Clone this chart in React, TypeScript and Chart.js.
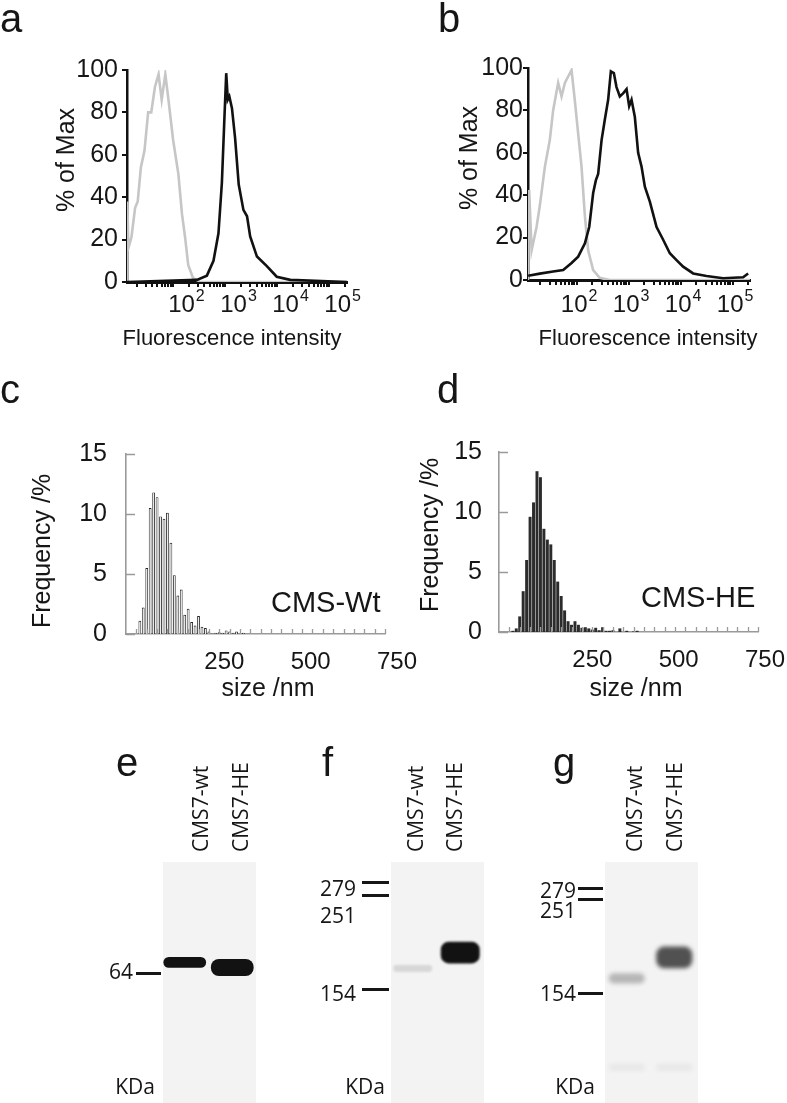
import React, { useEffect, useRef } from "react";
import { Chart, registerables } from "chart.js";

Chart.register(...registerables);

const SANS = "'Liberation Sans', Arial, Helvetica, sans-serif";
const BLOT_FONT = "'Open Sans', 'Noto Sans', sans-serif";
const INK = "#161616";

// ---------------- a / b : flow cytometry (% of Max vs fluorescence intensity) ----------------
const aIsotypeIntensity = [13.0, 13.2, 13.8, 15.8, 18.6, 20.9, 24, 28.2, 33.1, 38, 44.7, 52.5, 60.3, 70.8, 81.3, 100, 126, 148, 170, 195, 240, 331, 218000];
const aIsotypePct = [0, 38, 16, 21, 35, 38, 54, 62, 80, 80, 92, 98, 86, 98, 86, 67, 51, 32, 21, 8, 2, 0, 0];
const aStainIntensity = [13.0, 286, 445, 596, 743, 865, 955, 1047, 1122, 1202, 1349, 1549, 1820, 2239, 2630, 3020, 4074, 6310, 9772, 17780, 218000];
const aStainPct = [0, 1, 3, 10, 23, 47, 74, 98.5, 86, 87.5, 82, 68, 46, 34, 31, 21.5, 12, 7.5, 2.5, 1, 0];

const bIsotypeIntensity = [11.5, 12.1, 13.5, 16.8, 19.4, 24.3, 30.2, 35, 43.7, 50.8, 58.9, 68.1, 79.1, 91.2, 106, 123, 143, 165, 206, 275, 432, 213000];
const bIsotypePct = [0, 42.5, 14, 25, 35, 53.5, 66, 80, 93, 86.6, 93, 96, 99, 85, 69, 53.5, 30, 14, 4.7, 1, 0, 0];
const bStainIntensity = [11.6, 19.4, 35, 54.6, 79.1, 106, 143, 173, 206, 232, 257, 299, 345, 400, 451, 515, 579, 671, 776, 904, 1014, 1127, 1303, 1510, 1754, 2032, 2535, 3412, 4571, 6138, 8260, 11070, 17260, 31190, 65010, 157800, 196800];
const bStainPct = [2, 3, 4, 4.7, 8, 11, 17.3, 25, 41, 47, 50, 66, 75.6, 85, 98.4, 97.6, 91, 86.6, 88, 90, 82, 85, 77, 60, 53.5, 44, 37, 25, 19, 12.6, 9.4, 6.3, 3.1, 1.9, 0.8, 1.3, 3.1];

const decadeTicks = [100, 1000, 10000, 100000];
const decadeExponents = ["2", "3", "4", "5"];
const pctTicks = [0, 20, 40, 60, 80, 100];

// ---------------- c / d : size distribution ----------------
const cSize = [40, 50, 60, 70, 80, 90, 100, 110, 120, 130, 140, 150, 160, 170, 180, 190, 200, 210, 220, 230, 240, 250, 260, 270, 280, 290, 300, 310, 320, 330, 340];
const cFreq = [1.1, 2.2, 5.5, 10.5, 11.8, 11.4, 9.8, 9.6, 10.1, 7.6, 4.9, 3.2, 3.7, 1.6, 2.1, 1.0, 0.7, 1.5, 0.6, 0.5, 0.2, 0.05, 0.1, 0.15, 0.1, 0.3, 0.2, 0.1, 0.2, 0.05, 0.1];
const dSize = [40, 50, 60, 70, 80, 90, 100, 110, 120, 130, 140, 150, 160, 170, 180, 190, 200, 210, 220, 230, 240, 250, 260, 270, 280, 290, 300, 310, 320, 330, 340, 350, 360, 370, 380, 390, 400];
const dFreq = [0.1, 0.3, 1.3, 3.4, 6.0, 9.6, 10.8, 13.4, 12.9, 8.6, 7.7, 7.3, 6.0, 4.2, 3.0, 1.8, 0.9, 0.6, 0.9, 0.6, 0.35, 0.4, 0.3, 0.2, 0.35, 0.15, 0.4, 0.1, 0.1, 0.15, 0, 0.3, 0, 0.1, 0, 0.05, 0.1];
const sizeLabelTicks = [250, 500, 750];
const sizeTickMarks = [30, 60, 90, 120, 150, 180, 210, 240, 270, 300, 330, 360, 390, 420, 450, 480, 510, 540, 570, 600, 630, 660, 690, 720, 750];
const freqTicks = [0, 5, 10, 15];

// ---------------- e / f / g : western blots ----------------
// positions = migration distance in % of the visible lane length (0 = top of membrane)
const laneNames = ["CMS7-wt", "CMS7-HE"];
const eMarkerKDa = ["64"];
const eMarkerPos = [46.1];
const eMarkerLabelPos = [46.1];
const eBandTop = [39.4, 40.2];
const eBandBottom = [43.9, 47.3];
const eBandDensity = [1, 1];

const fMarkerKDa = ["279", "251", "154"];
const fMarkerPos = [8.7, 13.7, 52.7];
const fMarkerLabelPos = [11.6, 22.8, 55.2];
const fBandTop = [42.7, 33.1];
const fBandBottom = [45.6, 42.1];
const fBandDensity = [0.12, 1];

const gMarkerKDa = ["279", "251", "154"];
const gMarkerPos = [10.8, 15.4, 54.4];
const gMarkerLabelPos = [12.4, 20.7, 55.2];
const gBandTop = [46.2, 35.1];
const gBandBottom = [50.4, 44.1];
const gBandDensity = [0.27, 0.72];
const gFaintTop = [83.8, 83.8];
const gFaintBottom = [86.6, 86.6];
const gFaintDensity = [0.05, 0.05];

// ------------------------------------------------------------------

type TextItem = { text: string; x: number; y: number; font: string; align?: CanvasTextAlign; rotate?: number; color?: string };

function textsPlugin(items: TextItem[], origin: [number, number]) {
  return {
    id: "texts",
    afterDraw(chart: any) {
      const ctx = chart.ctx as CanvasRenderingContext2D;
      items.forEach((t) => {
        ctx.save();
        ctx.font = t.font;
        ctx.fillStyle = t.color || INK;
        ctx.textAlign = t.align || "left";
        ctx.textBaseline = "alphabetic";
        ctx.translate(t.x - origin[0], t.y - origin[1]);
        if (t.rotate) ctx.rotate(t.rotate);
        ctx.fillText(t.text, 0, 0);
        ctx.restore();
      });
    },
  };
}

function powerLabelsPlugin(dx: number, dy: number) {
  return {
    id: "powerLabels",
    afterDraw(chart: any) {
      const ctx = chart.ctx as CanvasRenderingContext2D;
      const x = chart.scales.x;
      const base = chart.chartArea.bottom + dy;
      decadeTicks.forEach((v, i) => {
        const px = x.getPixelForValue(v) + dx;
        ctx.save();
        ctx.fillStyle = INK;
        ctx.textBaseline = "alphabetic";
        ctx.textAlign = "left";
        ctx.font = `24px ${SANS}`;
        ctx.fillText("10", px, base);
        const w = ctx.measureText("10").width;
        ctx.font = `16px ${SANS}`;
        ctx.fillText(decadeExponents[i], px + w + 1, base - 11);
        ctx.restore();
      });
    },
  };
}

function inwardTicksPlugin(color: string) {
  return {
    id: "inwardTicks",
    afterDraw(chart: any) {
      const { ctx, chartArea: ca, scales } = chart;
      ctx.save();
      ctx.strokeStyle = color;
      ctx.lineWidth = 1.3;
      ctx.beginPath();
      sizeTickMarks.forEach((v) => {
        const px = Math.round(scales.x.getPixelForValue(v)) + 0.5;
        ctx.moveTo(px, ca.bottom);
        ctx.lineTo(px, ca.bottom - 5);
      });
      freqTicks.forEach((v) => {
        const py = Math.round(scales.y.getPixelForValue(v)) + 0.5;
        ctx.moveTo(ca.left, py);
        ctx.lineTo(ca.left + 9, py);
      });
      ctx.stroke();
      ctx.restore();
    },
  };
}

function blotPlugin(p: {
  markers: string[];
  labelPos: number[];
  labelRight: number;
  unitRight: number;
  blur: number;
  laneDx: number[];
}) {
  return {
    id: "blot",
    beforeDatasetsDraw(chart: any) {
      const { ctx, chartArea: ca } = chart;
      ctx.save();
      ctx.fillStyle = "#f3f3f3";
      ctx.fillRect(ca.left + 2, ca.top, ca.right - ca.left - 2, ca.bottom - ca.top);
      ctx.restore();
      ctx.save();
      ctx.filter = `blur(${p.blur}px)`;
    },
    afterDatasetsDraw(chart: any) {
      const { ctx, chartArea: ca, scales } = chart;
      ctx.restore();
      ctx.save();
      ctx.fillStyle = INK;
      ctx.font = `21px ${BLOT_FONT}`;
      ctx.textAlign = "right";
      ctx.textBaseline = "middle";
      p.markers.forEach((m, i) => {
        ctx.fillText(m, ca.left + p.labelRight, scales.y.getPixelForValue(p.labelPos[i]));
      });
      ctx.font = `21px ${BLOT_FONT}`;
      ctx.fillText("KDa", ca.left + p.unitRight, scales.y.getPixelForValue(93.8));
      ctx.font = `21px ${BLOT_FONT}`;
      ctx.textAlign = "left";
      ctx.textBaseline = "alphabetic";
      laneNames.forEach((name, i) => {
        ctx.save();
        ctx.translate(scales.x.getPixelForValue(i) + p.laneDx[i], ca.top - 10);
        ctx.rotate(-Math.PI / 2);
        ctx.fillText(name, 0, 0);
        ctx.restore();
      });
      ctx.restore();
    },
  };
}

const basePlugins = { legend: { display: false }, tooltip: { enabled: false } };

type Area = { l: number; t: number; r: number; b: number };

function flowConfig(o: {
  width: number; height: number; area: Area; min: number; max: number;
  isoX: number[]; isoY: number[]; stX: number[]; stY: number[];
  yPad: number; labelDx: number; labelDy: number; texts: TextItem[]; origin: [number, number];
}) {
  const marks: number[] = [];
  [10, 100, 1000, 10000, 100000].forEach((dec) => {
    [1, 2, 3, 4, 5, 6, 7, 8, 9].forEach((k) => {
      const v = k * dec;
      if (v >= o.min && v <= o.max) marks.push(v);
    });
  });
  return {
    type: "scatter",
    data: {
      datasets: [
        {
          data: o.stX.map((x, i) => ({ x, y: o.stY[i] })),
          showLine: true, pointRadius: 0, borderColor: "#111", borderWidth: 2.6, tension: 0,
        },
        {
          data: o.isoX.map((x, i) => ({ x, y: o.isoY[i] })),
          showLine: true, pointRadius: 0, borderColor: "#c6c6c6", borderWidth: 2.6, tension: 0,
        },
      ],
    },
    options: {
      animation: false, responsive: false, events: [],
      layout: { padding: { left: 0, top: o.area.t, right: o.width - o.area.r, bottom: 0 } },
      plugins: basePlugins,
      scales: {
        x: {
          type: "logarithmic", min: o.min, max: o.max,
          afterBuildTicks: (s: any) => { s.ticks = marks.map((v) => ({ value: v })); },
          afterFit: (s: any) => { s.height = o.height - o.area.b; },
          ticks: { display: false },
          grid: { drawOnChartArea: false, drawTicks: true, tickLength: 5, lineWidth: 2, color: "#111" },
          border: { display: true, color: "#111", width: 3 },
        },
        y: {
          type: "linear", min: 0, max: 100,
          afterBuildTicks: (s: any) => { s.ticks = pctTicks.map((v) => ({ value: v })); },
          afterFit: (s: any) => { s.width = o.area.l; },
          ticks: { padding: o.yPad, color: INK, font: { family: SANS, size: 25 } },
          grid: { drawOnChartArea: false, drawTicks: true, tickLength: 5, lineWidth: 2, color: "#111" },
          border: { display: true, color: "#111", width: 2.5 },
        },
      },
    },
    plugins: [powerLabelsPlugin(o.labelDx, o.labelDy), textsPlugin(o.texts, o.origin)],
  };
}

function sizeConfig(o: {
  width: number; height: number; area: Area; sizes: number[]; freq: number[];
  fill: string; border: string; borderWidth: number; barPct: number; labelOffset: number; yPad: number;
  texts: TextItem[]; origin: [number, number];
}) {
  return {
    type: "bar",
    data: {
      datasets: [
        {
          data: o.sizes.map((x, i) => ({ x, y: o.freq[i] })),
          backgroundColor: o.fill, borderColor: o.border, borderWidth: o.borderWidth,
          barPercentage: o.barPct, categoryPercentage: 1, borderSkipped: "bottom",
        },
      ],
    },
    options: {
      animation: false, responsive: false, events: [],
      layout: { padding: { left: 0, top: o.area.t, right: o.width - o.area.r, bottom: 0 } },
      plugins: basePlugins,
      scales: {
        x: {
          type: "linear", min: 0, max: 750, offset: false,
          afterBuildTicks: (s: any) => { s.ticks = sizeLabelTicks.map((v) => ({ value: v })); },
          afterFit: (s: any) => { s.height = o.height - o.area.b; },
          ticks: { padding: 6, labelOffset: o.labelOffset, maxRotation: 0, color: INK, font: { family: SANS, size: 24 } },
          grid: { display: false, offset: false },
          border: { display: true, color: "#9a9a9a", width: 1.6 },
        },
        y: {
          type: "linear", min: 0, max: 15,
          afterBuildTicks: (s: any) => { s.ticks = freqTicks.map((v) => ({ value: v })); },
          afterFit: (s: any) => { s.width = o.area.l; },
          ticks: { padding: o.yPad, color: INK, font: { family: SANS, size: 25 } },
          grid: { display: false },
          border: { display: true, color: "#9a9a9a", width: 1.6 },
        },
      },
    },
    plugins: [inwardTicksPlugin("#9a9a9a"), textsPlugin(o.texts, o.origin)],
  };
}

function bandColor(d: number) {
  return `rgba(18,18,18,${d})`;
}

function blotConfig(o: {
  width: number; height: number; area: Area;
  markers: string[]; markerPos: number[]; labelPos: number[];
  top: number[]; bottom: number[]; density: number[];
  faintTop?: number[]; faintBottom?: number[]; faintDensity?: number[];
  barPct: number; blur: number; tickLen: number; labelRight: number; unitRight: number; laneDx: number[];
  texts: TextItem[]; origin: [number, number];
}) {
  const datasets: any[] = [
    {
      data: laneNames.map((_, i) => [o.top[i], o.bottom[i]]),
      backgroundColor: o.density.map(bandColor),
      barPercentage: o.barPct, categoryPercentage: 1, grouped: false,
      borderRadius: 8, borderSkipped: false, borderWidth: 0,
    },
  ];
  if (o.faintTop && o.faintBottom && o.faintDensity) {
    const fd = o.faintDensity;
    datasets.push({
      data: laneNames.map((_, i) => [o.faintTop![i], o.faintBottom![i]]),
      backgroundColor: fd.map(bandColor),
      barPercentage: o.barPct, categoryPercentage: 1, grouped: false,
      borderRadius: 4, borderSkipped: false, borderWidth: 0,
    });
  }
  return {
    type: "bar",
    data: { labels: laneNames, datasets },
    options: {
      animation: false, responsive: false, events: [],
      layout: { padding: { left: 0, top: 0, right: o.width - o.area.r, bottom: 0 } },
      plugins: basePlugins,
      scales: {
        x: {
          type: "category", position: "top",
          afterFit: (s: any) => { s.height = o.area.t; },
          ticks: { display: false },
          grid: { display: false },
          border: { display: false },
        },
        y: {
          type: "linear", reverse: true, min: 0, max: 100,
          afterBuildTicks: (s: any) => { s.ticks = o.markerPos.map((v) => ({ value: v })); },
          afterFit: (s: any) => { s.width = o.area.l; },
          ticks: { display: false },
          grid: { drawOnChartArea: false, drawTicks: true, tickLength: o.tickLen, lineWidth: 3, color: INK },
          border: { display: false },
        },
      },
    },
    plugins: [
      blotPlugin({ markers: o.markers, labelPos: o.labelPos, labelRight: o.labelRight, unitRight: o.unitRight, blur: o.blur, laneDx: o.laneDx }),
      textsPlugin(o.texts, o.origin),
    ],
  };
}

function ChartBox({ left, top, width, height, build }: { left: number; top: number; width: number; height: number; build: () => any }) {
  const ref = useRef<HTMLCanvasElement | null>(null);
  useEffect(() => {
    if (!ref.current) return;
    const chart = new Chart(ref.current, build());
    return () => chart.destroy();
  }, []);
  return (
    <div style={{ position: "absolute", left, top, width, height }}>
      <canvas ref={ref} width={width} height={height} style={{ width, height, display: "block" }} />
    </div>
  );
}

const LETTER = `40px ${SANS}`;
const UP = -Math.PI / 2;

export default function App() {
  return (
    <div style={{ position: "absolute", left: 0, top: 0, width: 787, height: 1103, overflow: "hidden", background: "#fff" }}>
      <ChartBox left={0} top={0} width={390} height={360} build={() => flowConfig({
        width: 390, height: 360, area: { l: 127, t: 70, r: 347, b: 282 }, min: 13.0, max: 218800,
        isoX: aIsotypeIntensity, isoY: aIsotypePct, stX: aStainIntensity, stY: aStainPct,
        yPad: 4, labelDx: -5, labelDy: 30, origin: [0, 0],
        texts: [
          { text: "a", x: 0, y: 32, font: LETTER },
          { text: "% of Max", x: 74, y: 160, font: `25px ${SANS}`, align: "center", rotate: UP },
          { text: "Fluorescence intensity", x: 232, y: 345, font: `22px ${SANS}`, align: "center" },
        ],
      })} />
      <ChartBox left={390} top={0} width={397} height={360} build={() => flowConfig({
        width: 397, height: 360, area: { l: 138, t: 68, r: 360, b: 280 }, min: 11.5, max: 213800,
        isoX: bIsotypeIntensity, isoY: bIsotypePct, stX: bStainIntensity, stY: bStainPct,
        yPad: 0, labelDx: -16, labelDy: 32, origin: [390, 0],
        texts: [
          { text: "b", x: 438, y: 32, font: LETTER },
          { text: "% of Max", x: 477, y: 158, font: `25px ${SANS}`, align: "center", rotate: UP },
          { text: "Fluorescence intensity", x: 648, y: 345, font: `22px ${SANS}`, align: "center" },
        ],
      })} />
      <ChartBox left={0} top={360} width={420} height={340} build={() => sizeConfig({
        width: 420, height: 340, area: { l: 126, t: 94, r: 385, b: 274 }, sizes: cSize, freq: cFreq,
        fill: "#ececec", border: "#222", borderWidth: 0.9, barPct: 0.8, labelOffset: 12, yPad: 11, origin: [0, 360],
        texts: [
          { text: "c", x: 0, y: 403, font: LETTER },
          { text: "Frequency /%", x: 50, y: 551, font: `25px ${SANS}`, align: "center", rotate: UP },
          { text: "size /nm", x: 268, y: 696, font: `25px ${SANS}`, align: "center" },
          { text: "CMS-Wt", x: 271, y: 612, font: `29px ${SANS}` },
        ],
      })} />
      <ChartBox left={390} top={360} width={397} height={340} build={() => sizeConfig({
        width: 397, height: 340, area: { l: 109, t: 92, r: 368, b: 272 }, sizes: dSize, freq: dFreq,
        fill: "#2c2c2c", border: "#2c2c2c", borderWidth: 0, barPct: 0.86, labelOffset: 7, yPad: 9, origin: [390, 360],
        texts: [
          { text: "d", x: 437, y: 403, font: LETTER },
          { text: "Frequency /%", x: 438, y: 535, font: `25px ${SANS}`, align: "center", rotate: UP },
          { text: "size /nm", x: 636, y: 696, font: `25px ${SANS}`, align: "center" },
          { text: "CMS-HE", x: 641, y: 607, font: `29px ${SANS}` },
        ],
      })} />
      <ChartBox left={90} top={740} width={190} height={363} build={() => blotConfig({
        width: 190, height: 363, area: { l: 71, t: 122, r: 166, b: 363 },
        markers: eMarkerKDa, markerPos: eMarkerPos, labelPos: eMarkerLabelPos,
        top: eBandTop, bottom: eBandBottom, density: eBandDensity,
        barPct: 0.9, blur: 0.7, tickLen: 25, labelRight: -28, unitRight: -6, laneDx: [23, 16],
        origin: [90, 740],
        texts: [{ text: "e", x: 116, y: 776, font: LETTER }],
      })} />
      <ChartBox left={300} top={740} width={200} height={363} build={() => blotConfig({
        width: 200, height: 363, area: { l: 89, t: 122, r: 184, b: 363 },
        markers: fMarkerKDa, markerPos: fMarkerPos, labelPos: fMarkerLabelPos,
        top: fBandTop, bottom: fBandBottom, density: fBandDensity,
        barPct: 0.82, blur: 0.8, tickLen: 27, labelRight: -33, unitRight: -4, laneDx: [10, 2],
        origin: [300, 740],
        texts: [{ text: "f", x: 322, y: 776, font: LETTER }],
      })} />
      <ChartBox left={520} top={740} width={267} height={363} build={() => blotConfig({
        width: 267, height: 363, area: { l: 83, t: 122, r: 178, b: 363 },
        markers: gMarkerKDa, markerPos: gMarkerPos, labelPos: gMarkerLabelPos,
        top: gBandTop, bottom: gBandBottom, density: gBandDensity,
        faintTop: gFaintTop, faintBottom: gFaintBottom, faintDensity: gFaintDensity,
        barPct: 0.76, blur: 2, tickLen: 25, labelRight: -27, unitRight: -8, laneDx: [15, 8],
        origin: [520, 740],
        texts: [{ text: "g", x: 553, y: 776, font: LETTER }],
      })} />
    </div>
  );
}
